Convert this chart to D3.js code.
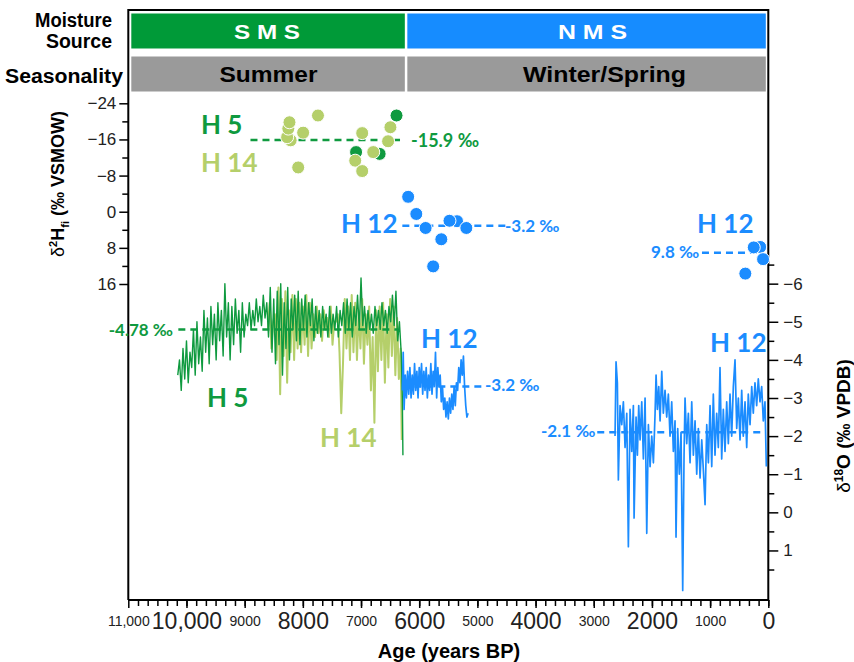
<!doctype html>
<html lang="en">
  <head>
    <meta charset="utf-8">
    <title>Moisture source and seasonality</title>
    <script src="https://d3js.org/d3.v7.min.js"></script>
    <style>
      body { margin: 0; background: #fff; }
      svg { display: block; }
      .lab { font-family: Lato, "Open Sans", sans-serif; font-weight: 700; }
      .tick text { font-family: "Liberation Sans", Arial, sans-serif; fill: #222; }
    </style>
  </head>
  <body>
    <div id="chart"></div>
    <script>

      // ---- data ----
      // d2H of fluid inclusions (permil VSMOW): age (yr BP), value
      const h5PtsAge  = [7085, 6680, 6390];
      const h5PtsD2H  = [-13.2, -12.8, -21.3];
      const h14PtsAge = [8210, 8270, 8250, 8230, 7995, 7740, 8080, 7100, 6980, 6980, 6790, 6535, 6495];
      const h14PtsD2H = [-15.8, -16.5, -18.4, -19.8, -17.5, -21.3, -9.8, -11.3, -17.4, -9.0, -13.2, -15.6, -18.7];
      const h12PtsAge = [6190, 6050, 5890, 5350, 5480, 5190, 5620, 5760, 140, 250, 90, 395];
      const h12PtsD2H = [-3.3, 0.5, 3.6, 2.1, 2.0, 3.6, 6.1, 12.1, 7.8, 7.9, 10.5, 13.7];

      // d18O of calcite (permil VPDB)
      const h5Age = [10150,10120,10090,10060,10030,10000,9970,9940,9910,9880,9850,9820,9790,9760,9730,9700,9670,9640,9610,9580,
        9550,9520,9490,9460,9430,9400,9370,9340,9310,9280,9250,9220,9190,9160,9130,9100,9070,9040,9010,8980,
        8950,8920,8890,8860,8830,8800,8770,8740,8710,8680,8650,8620,8590,8560,8530,8500,8470,8440,8410,8380,
        8350,8320,8290,8260,8230,8200,8170,8140,8110,8080,8050,8020,7990,7960,7930,7900,7870,7840,7810,7780,
        7750,7720,7690,7660,7630,7600,7570,7540,7510,7480,7450,7420,7390,7360,7330,7300,7270,7240,7210,7180,
        7150,7120,7090,7060,7030,7000,6970,6940,6910,6880,6850,6820,6790,6760,6730,6700,6670,6640,6610,6580,
        6550,6520,6490,6460,6430,6400,6370,6340,6310,6290,6280];
      const h5D18O = [-3.6,-4.0,-3.2,-4.3,-3.5,-4.5,-3.4,-4.2,-3.8,-4.8,-3.6,-5.0,-3.9,-4.6,-3.7,-5.3,-4.2,-5.1,-3.9,-5.4,
        -4.4,-5.2,-4.0,-5.5,-4.5,-5.3,-4.1,-6.0,-4.6,-5.5,-4.0,-5.4,-4.4,-5.6,-4.7,-5.3,-4.2,-5.5,-4.6,-5.2,
        -4.9,-5.5,-4.8,-5.3,-4.9,-5.6,-5.0,-5.4,-4.9,-5.7,-5.1,-5.5,-4.6,-5.9,-4.2,-5.6,-3.9,-5.8,-4.4,-6.0,
        -3.6,-5.5,-4.3,-5.9,-4.0,-5.6,-4.8,-5.7,-4.5,-5.8,-4.4,-5.6,-4.8,-5.7,-4.6,-5.5,-4.9,-5.6,-4.5,-5.4,
        -4.7,-5.3,-4.6,-5.4,-4.8,-5.2,-4.6,-5.4,-4.7,-5.2,-4.8,-5.4,-4.6,-5.3,-4.9,-5.5,-4.7,-5.6,-4.8,-5.5,
        -4.6,-5.4,-4.9,-5.7,-4.8,-6.15,-4.9,-5.4,-4.7,-5.3,-4.8,-5.2,-4.7,-5.4,-4.9,-5.3,-4.8,-5.5,-4.9,-5.3,
        -4.7,-5.4,-5.0,-5.7,-4.9,-5.8,-4.5,-5.0,-4.2,-3.0,-1.5];

      const h14Age = [8600,8570,8540,8510,8480,8450,8420,8390,8360,8330,8300,8270,8240,8210,8180,8150,8120,8090,8060,8030,
        8000,7970,7940,7910,7880,7850,7820,7790,7760,7730,7700,7670,7640,7610,7580,7550,7520,7490,7460,7430,
        7400,7370,7340,7310,7280,7250,7220,7190,7160,7130,7100,7070,7040,7010,6980,6950,6920,6890,6860,6830,
        6800,6770,6740,6710,6680,6650,6620,6590,6560,6530,6500,6470,6440,6410,6380,6350,6320,6300];
      const h14D18O = [-4.8,-5.5,-4.3,-5.0,-5.2,-4.0,-5.9,-3.1,-5.6,-4.1,-5.8,-3.4,-5.3,-4.2,-5.7,-4.0,-5.6,-4.3,-5.5,-4.2,
        -5.4,-4.4,-5.7,-4.1,-5.5,-4.3,-5.2,-4.6,-5.4,-4.7,-5.2,-4.5,-5.3,-4.8,-5.1,-4.6,-5.4,-4.4,-5.0,-5.0,
        -5.2,-4.2,-2.6,-3.9,-5.6,-4.3,-5.4,-4.0,-5.7,-4.2,-5.5,-4.0,-5.3,-4.3,-5.6,-3.9,-5.2,-4.4,-5.4,-3.2,
        -4.6,-2.35,-5.3,-3.7,-5.4,-4.0,-5.5,-3.4,-5.2,-3.8,-5.6,-4.1,-5.4,-3.6,-5.1,-3.5,-4.3,-1.9];

      const h12aAge = [6290,6275,6260,6240,6220,6200,6180,6160,6140,6120,6100,6080,6060,6040,6020,6000,5980,5960,5940,5920,
        5900,5880,5860,5840,5820,5800,5780,5760,5740,5720,5700,5680,5660,5640,5620,5600,5580,5560,5540,5520,
        5500,5480,5460,5440,5420,5400,5380,5360,5340,5320,5300,5280,5260,5240,5220,5200,5180,5160];
      const h12aD18O = [-3.2,-4.2,-2.7,-3.6,-3.0,-3.7,-3.1,-3.8,-3.0,-3.6,-3.1,-3.9,-3.2,-3.7,-3.0,-3.8,-3.3,-3.9,-3.1,-3.7,
        -3.2,-3.8,-3.0,-3.6,-3.2,-3.9,-3.1,-3.7,-3.3,-4.2,-3.0,-3.8,-3.3,-3.6,-2.9,-3.3,-2.7,-3.0,-2.5,-2.9,
        -2.45,-3.0,-2.6,-3.1,-2.7,-3.3,-2.8,-3.4,-3.2,-3.8,-3.4,-4.0,-3.6,-4.1,-3.3,-2.8,-2.5,-2.6];

      const h12bAge = [2634,2617,2594,2577,2548,2519,2491,2462,2433,2405,2376,2347,2319,2307,2273,2250,2227,2204,2175,2147,
        2118,2089,2061,2032,2003,1975,1946,1929,1907,1883,1860,1831,1804,1775,1746,1718,1689,1660,1632,1603,
        1586,1557,1529,1500,1471,1448,1431,1402,1374,1345,1316,1288,1259,1230,1202,1173,1144,1116,1087,1058,
        1030,1001,972,945,916,887,859,830,801,773,744,715,687,658,629,601,572,543,515,486,
        457,430,400,371,344,314,285,258,229,200,172,143,114,86,57,34];
      const h12bD18O = [-2.0,-3.95,-3.4,-0.85,-2.8,-2.3,-2.9,-1.7,-2.6,0.9,-2.7,-1.6,-2.8,0.15,-2.5,-1.5,-2.8,-1.9,-2.9,-1.4,
        -3.0,0.55,-2.3,-1.2,-2.0,-1.3,-2.6,-3.6,-2.7,-3.3,-2.4,-3.7,-2.6,-3.2,-2.5,-3.1,-2.0,-2.9,-1.6,-2.4,
        0.65,-2.2,-1.0,-2.1,2.05,-1.5,-3.0,-1.8,-2.6,-1.3,-2.9,-1.5,-2.4,-1.0,-2.2,-0.9,-1.9,-1.1,-0.2,-2.3,
        -1.3,-2.8,-1.2,-3.1,-1.5,-2.6,-1.7,-3.8,-1.4,-2.7,-1.6,-2.9,-1.8,-3.1,-2.0,-3.3,-4.0,-2.2,-3.0,-1.9,
        -3.2,-2.0,-2.9,-1.7,-3.1,-2.3,-3.3,-2.6,-3.4,-2.8,-3.5,-2.9,-3.3,-2.4,-2.9,-1.2];

      // mean lines: [from age, to age, value]
      const meanD2H  = { h5h14: [8900, 6330, -15.9], h12a: [6290, 4470, 3.1], h12b: [1140, 140, 9.1] };
      const meanD18O = { h5h14: [10140, 6360, -4.8], h12a: [6290, 4900, -3.3], h12b: [2940, 110, -2.1] };

      // axis ticks
      const ageTicks = [11000, 10000, 9000, 8000, 7000, 6000, 5000, 4000, 3000, 2000, 1000, 0];
      const ageTickLabels = ["11,000", "10,000", "9000", "8000", "7000", "6000", "5000", "4000", "3000", "2000", "1000", "0"];
      const d2hTicks = [-24, -16, -8, 0, 8, 16];
      const d18oTicks = [-6, -5, -4, -3, -2, -1, 0, 1];

      const cDark = "#0f9a3f", cLight = "#b5cf6a", cBlue = "#1b8cff";

      const W = 854, H = 662;
      const mLeft = 128.3, mRight = 768.3, mTop = 10, mBottom = 600;

      const svg = d3.select("#chart").append("svg")
        .attr("width", W).attr("height", H);

      const x = d3.scaleLinear().domain([11000, 0]).range([mLeft, mRight]);
      const yH = d3.scaleLinear().domain([-24, 16]).range([103.3, 284]);
      const yO = d3.scaleLinear().domain([-6.5, 2.3]).range([264.6, 600]);

      // ---- top bands ----
      const splitAge = 6230;
      const band = svg.append("g");
      band.append("rect").attr("x", mLeft + 3).attr("y", 13.5).attr("width", x(splitAge) - mLeft - 4).attr("height", 35).attr("fill", "#009a38");
      band.append("rect").attr("x", x(splitAge) + 1.5).attr("y", 13.5).attr("width", mRight - x(splitAge) - 4).attr("height", 35).attr("fill", "#168cff");
      band.append("rect").attr("x", mLeft + 3).attr("y", 56.5).attr("width", x(splitAge) - mLeft - 4).attr("height", 35).attr("fill", "#9a9a9a");
      band.append("rect").attr("x", x(splitAge) + 1.5).attr("y", 56.5).attr("width", mRight - x(splitAge) - 4).attr("height", 35).attr("fill", "#9a9a9a");

      const bandFont = "'Liberation Sans Narrow', 'Arial Narrow', 'Liberation Sans', Arial, sans-serif";
      function bandText(tx, ty, txt, len, size, fill, anchor) {
        band.append("text").attr("x", tx).attr("y", ty)
          .attr("text-anchor", anchor || "middle")
          .attr("font-family", bandFont).attr("font-weight", 700)
          .attr("font-size", size).attr("fill", fill)
          .attr("textLength", len).attr("lengthAdjust", "spacingAndGlyphs")
          .text(txt);
      }
      bandText(267, 39, "S M S", 66, 20, "#fff");
      bandText(592.5, 39, "N M S", 69, 20, "#fff");
      bandText(268.5, 81.5, "Summer", 98, 22, "#000");
      bandText(604.5, 81.5, "Winter/Spring", 163, 22, "#000");
      bandText(112, 27, "Moisture", 77, 20, "#000", "end");
      bandText(112, 48, "Source", 66, 20, "#000", "end");
      bandText(123, 83, "Seasonality", 118, 20, "#000", "end");

      // ---- frame ----
      svg.append("path")
        .attr("d", `M${mLeft},${mBottom}V${mTop}H${mRight}V${mBottom}H${mLeft}`)
        .attr("fill", "none").attr("stroke", "#000").attr("stroke-width", 2);

      // ---- axes ----
      const xAxis = svg.append("g").attr("transform", `translate(0,${mBottom})`)
        .call(d3.axisBottom(x).tickValues(ageTicks).tickSize(8).tickFormat((d, i) => ageTickLabels[i]));
      xAxis.select(".domain").remove();
      xAxis.selectAll(".tick line").attr("stroke-width", 1.5);
      xAxis.selectAll(".tick text")
        .attr("y", (d, i) => i % 2 ? 13 : 16)
        .attr("font-size", (d, i) => i % 2 ? 23 : 14);
      const xMinor = svg.append("g").attr("transform", `translate(0,${mBottom})`)
        .call(d3.axisBottom(x).tickValues(d3.range(0, 11000, 1000 / 6)).tickSize(6).tickFormat(""));
      xMinor.select(".domain").remove();
      xMinor.selectAll(".tick line").attr("stroke-width", 1.5);

      const lAxis = svg.append("g").attr("transform", `translate(${mLeft},0)`)
        .call(d3.axisLeft(yH).tickValues(d2hTicks).tickSize(9).tickPadding(3));
      lAxis.select(".domain").remove();
      lAxis.selectAll(".tick line").attr("stroke-width", 1.5);
      lAxis.selectAll(".tick text").attr("font-size", 17);
      const lMinor = svg.append("g").attr("transform", `translate(${mLeft},0)`)
        .call(d3.axisLeft(yH).tickValues([-20, -12, -4, 4, 12]).tickSize(6).tickFormat(""));
      lMinor.select(".domain").remove();
      lMinor.selectAll(".tick line").attr("stroke-width", 1.5);

      const rAxis = svg.append("g").attr("transform", `translate(${mRight},0)`)
        .call(d3.axisRight(yO).tickValues(d18oTicks).tickSize(10).tickPadding(5));
      rAxis.select(".domain").remove();
      rAxis.selectAll(".tick line").attr("stroke-width", 1.5);
      rAxis.selectAll(".tick text").attr("font-size", 17);
      const rMinor = svg.append("g").attr("transform", `translate(${mRight},0)`)
        .call(d3.axisRight(yO).tickValues([-6.5, -5.5, -4.5, -3.5, -2.5, -1.5, -0.5, 0.5, 1.5]).tickSize(6).tickFormat(""));
      rMinor.select(".domain").remove();
      rMinor.selectAll(".tick line").attr("stroke-width", 1.5);

      // axis titles
      const axFont = "'Liberation Sans', Arial, sans-serif";
      svg.append("text")
        .attr("transform", "translate(449,658)")
        .attr("text-anchor", "middle").attr("font-family", axFont).attr("font-weight", 700).attr("font-size", 20)
        .text("Age (years BP)");

      const lt = svg.append("text")
        .attr("transform", "translate(64,184) rotate(-90)")
        .attr("text-anchor", "middle").attr("font-family", axFont).attr("font-weight", 700).attr("font-size", 18);
      lt.append("tspan").attr("font-weight", 400).text("δ");
      lt.append("tspan").attr("font-size", 11).attr("dy", -7).text("2");
      lt.append("tspan").attr("dy", 7).text("H");
      lt.append("tspan").attr("font-size", 11).attr("dy", 5).text("fi");
      lt.append("tspan").attr("dy", -5).text(" (‰ VSMOW)");

      const rt = svg.append("text")
        .attr("transform", "translate(850,426) rotate(-90)")
        .attr("text-anchor", "middle").attr("font-family", axFont).attr("font-weight", 700).attr("font-size", 19);
      rt.append("tspan").attr("font-weight", 400).text("δ");
      rt.append("tspan").attr("font-size", 12).attr("dy", -7).text("18");
      rt.append("tspan").attr("dy", 7).text("O (‰ VPDB)");

      // ---- d18O series ----
      const line = d3.line().x(d => x(d[0])).y(d => yO(d[1]));
      function series(ages, vals, color, w) {
        svg.append("path")
          .datum(ages.map((a, i) => [a, vals[i]]))
          .attr("d", line)
          .attr("fill", "none").attr("stroke", color).attr("stroke-width", w).attr("stroke-linejoin", "round");
      }
      series(h14Age, h14D18O, cLight, 2);
      series(h5Age, h5D18O, cDark, 1.4);
      series(h12aAge, h12aD18O, cBlue, 1.7);
      series(h12bAge, h12bD18O, cBlue, 1.7);

      // ---- mean lines ----
      function meanLine(m, scale, color) {
        svg.append("line")
          .attr("x1", x(m[0])).attr("x2", x(m[1]))
          .attr("y1", scale(m[2])).attr("y2", scale(m[2]))
          .attr("stroke", color).attr("stroke-width", 2.5).attr("stroke-dasharray", "7,5");
      }
      meanLine(meanD18O.h5h14, yO, cDark);
      meanLine(meanD18O.h12a, yO, cBlue);
      meanLine(meanD18O.h12b, yO, cBlue);
      meanLine(meanD2H.h5h14, yH, cDark);
      meanLine(meanD2H.h12a, yH, cBlue);
      meanLine(meanD2H.h12b, yH, cBlue);

      // ---- d2H scatter ----
      function dots(ages, vals, color) {
        svg.append("g").selectAll("circle")
          .data(ages.map((a, i) => [a, vals[i]]))
          .join("circle")
          .attr("cx", d => x(d[0])).attr("cy", d => yH(d[1])).attr("r", 6.5)
          .attr("fill", color).attr("stroke", "#fff").attr("stroke-width", 1);
      }
      dots(h5PtsAge, h5PtsD2H, cDark);
      dots(h14PtsAge, h14PtsD2H, cLight);
      dots(h12PtsAge, h12PtsD2H, cBlue);

      // ---- labels ----
      function label(tx, ty, txt, size, color, anchor) {
        svg.append("text").attr("class", "lab")
          .attr("x", tx).attr("y", ty).attr("font-size", size).attr("fill", color)
          .attr("text-anchor", anchor || "start").text(txt);
      }
      label(201, 134, "H 5", 26, cDark);
      label(201, 172, "H 14", 26, cLight);
      label(411, 147, "-15.9 ‰", 18, cDark);
      label(341, 233, "H 12", 26, cBlue);
      label(505, 232, "-3.2 ‰", 17, cBlue);
      label(697, 233, "H 12", 26, cBlue);
      label(651, 258, "9.8 ‰", 17, cBlue);

      label(173, 336, "-4.78 ‰", 17, cDark, "end");
      label(207, 407, "H 5", 26, cDark);
      label(320, 447, "H 14", 26, cLight);
      label(421, 348, "H 12", 26, cBlue);
      label(485, 391, "-3.2 ‰", 17, cBlue);
      label(710, 352, "H 12", 26, cBlue);
      label(541, 437, "-2.1 ‰", 17, cBlue);

    </script>
  </body>
</html>
